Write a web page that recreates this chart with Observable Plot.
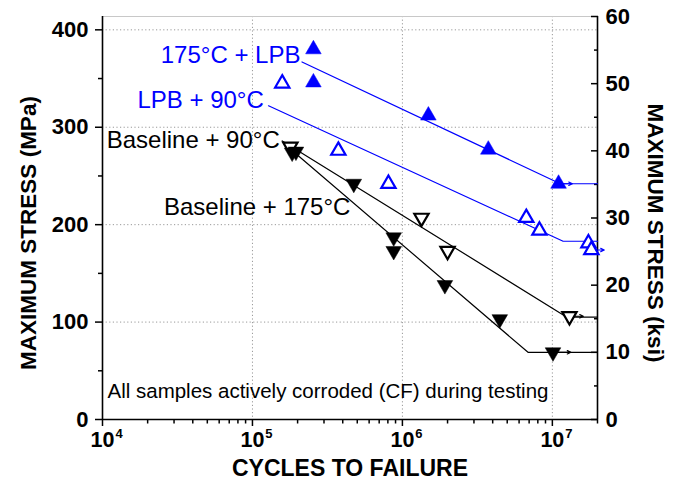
<!DOCTYPE html>
<html><head><meta charset="utf-8">
<script src="https://cdn.jsdelivr.net/npm/d3@7"></script>
<script src="https://cdn.jsdelivr.net/npm/@observablehq/plot@0.6"></script>
<style>body{margin:0;background:#fff;}</style>
</head><body><div id="chart"></div>
<script>
const KSI = 6.89476; // MPa per ksi

// ---- data (cycles to failure, maximum stress in MPa) ----
const lpb175Cycles = [2.55e5, 2.55e5, 1.49e6, 3.74e6, 1.10e7];
const lpb175Stress = [380, 346, 312, 277, 242];
const lpb90Cycles = [1.58e5, 3.74e5, 8.07e5, 6.7e6, 8.2e6, 1.74e7, 1.82e7];
const lpb90Stress = [345, 276, 242, 207, 194, 181, 174];
const base90Cycles = [1.79e5, 1.34e6, 2.0e6, 1.3e7];
const base90Stress = [280, 207, 173, 106];
const base175Cycles = [1.84e5, 1.95e5, 4.74e5, 8.75e5, 8.75e5, 1.92e6, 4.46e6, 1.01e7];
const base175Stress = [274, 275, 242, 187, 173, 138, 103, 69];

// fitted trend lines
const lpb175FitCycles = [2.14e5, 1.13e7, 2e7];
const lpb175FitStress = [367, 242, 242];
const lpb90FitCycles = [1.28e5, 1.18e7, 2e7];
const lpb90FitStress = [322, 183, 183];
const base90FitCycles = [1.58e5, 1.25e7, 2e7];
const base90FitStress = [286, 105, 105];
const base175FitCycles = [1.63e5, 6.88e6, 2e7];
const base175FitStress = [283, 69, 69];

// run-outs (arrows)
const runoutCycles = [1.10e7, 1.82e7, 1.3e7, 1.01e7];
const runoutEndCycles = [1.36e7, 2.22e7, 1.61e7, 1.33e7];
const runoutStress = [242, 174, 106, 69];
const runoutColors = ["#0000ff", "#0000ff", "#000000", "#000000"];

// series labels
const labelText = ["175°C + LPB", "LPB + 90°C", "Baseline + 90°C", "Baseline + 175°C"];
const labelCycles = [2.09e5, 1.19e5, 1.52e5, 4.5e5];
const labelStress = [374, 327.5, 286.5, 218];
const labelColors = ["#0000ff", "#0000ff", "#000000", "#000000"];
const noteText = "All samples actively corroded (CF) during testing";
const noteCycles = 1.08e4, noteStress = 28.7;

// ticks
const xTicks = [1e4, 1e5, 1e6, 1e7];
const xMinor = [];
for (const dec of [1e4, 1e5, 1e6]) for (const m of [2,3,4,5,6,7,8,9]) xMinor.push(m * dec);
xMinor.push(2e7);
const yTicks = [0, 100, 200, 300, 400];
const yMinor = [50, 150, 250, 350];
const ksiTicks = [0, 10, 20, 30, 40, 50, 60];
const ksiMinor = [5, 15, 25, 35, 45, 55];
const gridY = [100, 200, 300, 400];
const gridX = [1e5, 1e6, 1e7];

// ---- build tables ----
const zip = (c, s, extra) => c.map((x, i) => ({cycles: x, stress: s[i], ...extra}));
const blue = "#0000ff";
const filledUp = zip(lpb175Cycles, lpb175Stress, {color: blue});
const openUp = zip(lpb90Cycles, lpb90Stress, {color: blue});
const openDown = zip(base90Cycles, base90Stress, {color: "#000"});
const filledDown = zip(base175Cycles, base175Stress, {color: "#000"});
const fits = [
  ...zip(lpb175FitCycles, lpb175FitStress, {s: "lpb175", color: blue}),
  ...zip(lpb90FitCycles, lpb90FitStress, {s: "lpb90", color: blue}),
  ...zip(base90FitCycles, base90FitStress, {s: "b90", color: "#000"}),
  ...zip(base175FitCycles, base175FitStress, {s: "b175", color: "#000"})
];
const runouts = runoutCycles.map((c, i) => ({x1: c, x2: runoutEndCycles[i], y: runoutStress[i], color: runoutColors[i]}));
const labels = labelText.map((t, i) => ({text: t, cycles: labelCycles[i], stress: labelStress[i], color: labelColors[i]}));

const triUp = {draw(ctx, size) {
  const y = -Math.sqrt(size / (Math.sqrt(3) * 3));
  ctx.moveTo(0, y * 2); ctx.lineTo(-Math.sqrt(3) * y, -y); ctx.lineTo(Math.sqrt(3) * y, -y); ctx.closePath();
}};
const triDown = {draw(ctx, size) {
  const y = Math.sqrt(size / (Math.sqrt(3) * 3));
  ctx.moveTo(0, y * 2); ctx.lineTo(-Math.sqrt(3) * y, -y); ctx.lineTo(Math.sqrt(3) * y, -y); ctx.closePath();
}};

const FONT = "'Liberation Sans', Arial, Helvetica, sans-serif";
const R = 5.8;

const chart = Plot.plot({
  width: 678, height: 489,
  marginLeft: 102, marginRight: 81, marginTop: 16, marginBottom: 70,
  style: {fontFamily: FONT, fontSize: "22px", background: "#fff", color: "#000"},
  x: {type: "log", domain: [1e4, 2e7]},
  y: {domain: [0, 60 * KSI]},
  marks: [
    Plot.ruleY(gridY, {stroke: "#999", strokeDasharray: "1.2,2.4", strokeWidth: 1}),
    Plot.ruleX(gridX, {stroke: "#999", strokeDasharray: "1.2,2.4", strokeWidth: 1}),
    Plot.ruleY([60 * KSI], {stroke: "#c8c8c8", strokeWidth: 1.2}),
    // left axis
    Plot.axisY(yTicks, {anchor: "left", tickSize: 7, tickPadding: 7, strokeWidth: 1.5, fontSize: 22, fontWeight: "bold", label: null, tickFormat: d => String(d)}),
    Plot.axisY(yMinor, {anchor: "left", tickSize: 4, strokeWidth: 1.5, label: null, tickFormat: () => ""}),
    // right axis (ksi), ticks inward
    Plot.axisY(ksiTicks.map(k => k * KSI), {anchor: "right", tickSize: 7, dx: -7, strokeWidth: 1.5, label: null, tickFormat: () => ""}),
    Plot.axisY(ksiMinor.map(k => k * KSI), {anchor: "right", tickSize: 4, dx: -4, strokeWidth: 1.5, label: null, tickFormat: () => ""}),
    Plot.axisY(ksiTicks.map(k => k * KSI), {anchor: "right", tickSize: 0, tickPadding: 8, fontSize: 22, fontWeight: "bold", label: null, tickFormat: d => String(Math.round(d / KSI))}),
    // bottom axis
    Plot.axisX(xTicks, {anchor: "bottom", tickSize: 7, strokeWidth: 1.5, label: null, tickFormat: () => ""}),
    Plot.axisX(xMinor, {anchor: "bottom", tickSize: 4.5, strokeWidth: 1.5, label: null, tickFormat: () => ""}),
    Plot.text(xTicks, {x: d => d, frameAnchor: "bottom", dy: 27, text: () => "10", textAnchor: "middle", fontSize: 21.5, fontWeight: "bold"}),
    Plot.text(xTicks, {x: d => d, frameAnchor: "bottom", dy: 18, dx: 16.5, text: d => String(Math.round(Math.log10(d))), textAnchor: "middle", fontSize: 13, fontWeight: "bold"}),
    // frame lines
    Plot.ruleX([1e4], {strokeWidth: 1.6}),
    Plot.ruleX([2e7], {strokeWidth: 1.6}),
    Plot.ruleY([0], {strokeWidth: 1.6}),
    // trend lines
    Plot.line(fits, {x: "cycles", y: "stress", z: "s", stroke: "color", strokeWidth: 1.2}),
    Plot.arrow(runouts, {x1: "x1", x2: "x2", y1: "y", y2: "y", stroke: "color", strokeWidth: 1.2, headLength: 5, headAngle: 50}),
    // markers
    Plot.dot(filledUp, {x: "cycles", y: "stress", symbol: triUp, r: R, fill: "color", stroke: "color", strokeWidth: 0.5}),
    Plot.dot(openUp, {x: "cycles", y: "stress", symbol: triUp, r: R - 0.5, fill: "#fff", stroke: "color", strokeWidth: 2.2}),
    Plot.dot(openDown, {x: "cycles", y: "stress", symbol: triDown, r: R - 0.5, fill: "#fff", stroke: "color", strokeWidth: 2.2}),
    Plot.dot(filledDown, {x: "cycles", y: "stress", symbol: triDown, r: R, fill: "color", stroke: "color", strokeWidth: 0.5}),
    // series labels
    Plot.text(labels, {x: "cycles", y: "stress", text: "text", fill: "color", textAnchor: "end", fontSize: 24}),
    Plot.text([noteText], {x: () => noteCycles, y: () => noteStress, text: d => d, textAnchor: "start", fontSize: 20.5}),
    // axis titles
    Plot.text(["CYCLES TO FAILURE"], {frameAnchor: "bottom", dy: 56, text: d => d, textAnchor: "middle", fontSize: 23, fontWeight: "bold"}),
    Plot.text(["MAXIMUM STRESS (MPa)"], {frameAnchor: "left", dx: -74, dy: 15, rotate: -90, text: d => d, textAnchor: "middle", fontSize: 22.5, fontWeight: "bold"}),
    Plot.text(["MAXIMUM STRESS (ksi)"], {frameAnchor: "right", dx: 58, dy: 15, rotate: 90, text: d => d, textAnchor: "middle", fontSize: 22.5, fontWeight: "bold"})
  ]
});
document.getElementById("chart").appendChild(chart);
</script>
</body></html>
